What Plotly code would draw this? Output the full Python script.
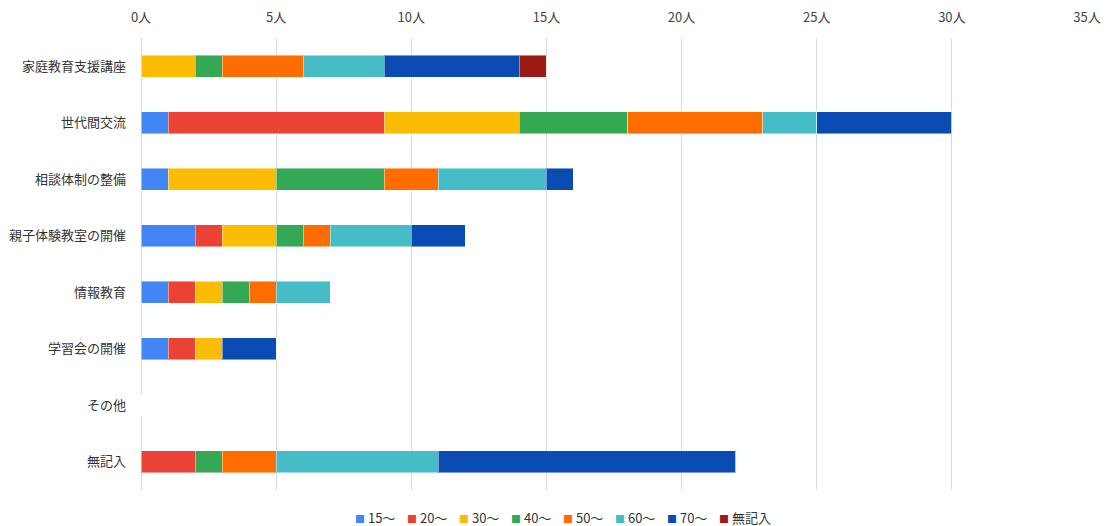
import plotly.graph_objects as go

categories = ["家庭教育支援講座", "世代間交流", "相談体制の整備", "親子体験教室の開催",
              "情報教育", "学習会の開催", "その他", "無記入"]

series_names = ["15～", "20～", "30～", "40～", "50～", "60～", "70～", "無記入"]
v15 = [0, 1, 1, 2, 1, 1, 0, 0]
v20 = [0, 8, 0, 1, 1, 1, 0, 2]
v30 = [2, 5, 4, 2, 1, 1, 0, 0]
v40 = [1, 4, 4, 1, 1, 0, 0, 1]
v50 = [3, 5, 2, 1, 1, 0, 0, 2]
v60 = [3, 2, 4, 3, 2, 0, 0, 6]
v70 = [5, 5, 1, 2, 0, 2, 0, 11]
v_none = [1, 0, 0, 0, 0, 0, 0, 0]

colors = ["#4285F4", "#EA4335", "#FBBC04", "#34A853", "#FF6D01", "#46BDC6", "#0B4CB4", "#9C1C13"]
values = [v15, v20, v30, v40, v50, v60, v70, v_none]

FONT = "Noto Sans CJK JP, Noto Sans, sans-serif"

fig = go.Figure()
for name, vals, col in zip(series_names, values, colors):
    fig.add_trace(go.Bar(
        y=categories, x=vals, name=name, orientation="h",
        marker=dict(color=col, line=dict(color="rgba(255,255,255,0.45)", width=1)),
        hovertemplate="%{y}: %{x}人<extra>" + name + "</extra>",
        showlegend=False,
    ))

# compact legend row: coloured square + series name
legend_text = "&nbsp;&nbsp;&nbsp;&nbsp;".join(
    f'<span style="color:{c};font-size:10px">■</span>&nbsp;{n}' for n, c in zip(series_names, colors)
)
fig.add_annotation(
    text=legend_text, showarrow=False,
    xref="paper", yref="paper", x=(563 - 141) / 946, y=-0.035,
    xanchor="center", yanchor="top",
    font=dict(family=FONT, size=13, color="#333333"),
)

fig.update_layout(
    barmode="stack",
    bargap=0.61,
    width=1107, height=526,
    margin=dict(l=141, r=20, t=38, b=36),
    plot_bgcolor="white", paper_bgcolor="white",
    font=dict(family=FONT, size=13, color="#444444"),
    xaxis=dict(
        side="top", range=[0, 35], dtick=5, tick0=0, automargin=False,
        ticksuffix="人", showgrid=True, gridcolor="#d9d9d9", gridwidth=1,
        zeroline=True, zerolinecolor="#d9d9d9", zerolinewidth=1,
        showline=False, ticks="", ticklabelstandoff=12,
        tickfont=dict(family=FONT, size=13, color="#444444"),
    ),
    yaxis=dict(
        autorange="reversed", showgrid=False, showline=False, ticks="",
        ticklabelstandoff=14, automargin=False,
        tickfont=dict(family=FONT, size=13, color="#333333"),
    ),
)

fig.write_html("out.html")
